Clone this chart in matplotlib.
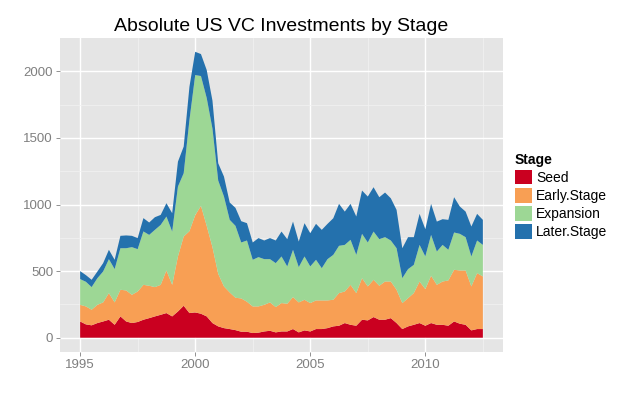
import numpy as np
import matplotlib
matplotlib.use("Agg")
import matplotlib.pyplot as plt
from matplotlib.patches import Patch

plt.rcParams["font.family"] = ["Liberation Sans", "DejaVu Sans"]

# quarterly, 1995 Q1 .. 2012 Q3
years = 1995 + 0.25 * np.arange(71)

seed = [122, 100, 93, 110, 122, 135, 97, 160, 122, 110,
        118, 135, 147, 160, 172, 185, 160, 197, 240, 185,
        190, 180, 160, 110, 85, 72, 65, 57, 45, 45,
        35, 38, 47, 52, 40, 47, 47, 65, 40, 55,
        47, 65, 65, 72, 85, 90, 110, 97, 90, 135,
        130, 155, 135, 135, 147, 110, 65, 85, 97, 110,
        90, 110, 97, 97, 90, 122, 105, 97, 55, 65, 65]
early = [125, 135, 117, 137, 143, 200, 168, 200, 233, 212,
         229, 262, 243, 220, 225, 320, 237, 413, 520, 615,
         730, 810, 680, 570, 395, 313, 275, 243, 250, 225,
         200, 197, 200, 213, 190, 213, 208, 240, 225, 230,
         213, 215, 215, 208, 200, 245, 237, 300, 245, 312,
         255, 280, 255, 287, 275, 250, 195, 212, 238, 312,
         275, 355, 300, 325, 340, 388, 400, 408, 330, 420, 395]
expansion = [193, 185, 170, 200, 232, 255, 250, 312, 317, 358,
             318, 401, 382, 430, 450, 405, 400, 525, 475, 835,
             1052, 975, 960, 890, 700, 675, 545, 540, 420, 460,
             350, 370, 343, 325, 330, 350, 280, 355, 265, 325,
             275, 305, 242, 310, 337, 355, 350, 338, 287, 333,
             330, 362, 350, 333, 308, 312, 187, 218, 212, 275,
             245, 307, 250, 275, 230, 280, 275, 250, 225, 245, 237]
later = [60, 50, 55, 50, 63, 70, 70, 93, 96, 85,
         83, 100, 93, 95, 75, 100, 138, 187, 200, 250,
         175, 165, 210, 210, 130, 150, 130, 135, 160, 130,
         130, 143, 140, 158, 170, 187, 205, 212, 192, 250,
         250, 270, 288, 265, 275, 315, 250, 270, 288, 325,
         345, 333, 315, 335, 317, 288, 225, 240, 208, 233,
         205, 233, 225, 193, 225, 265, 205, 192, 225, 200, 188]

stages = ["Seed", "Early.Stage", "Expansion", "Later.Stage"]
colors = ["#CA0020", "#F89F54", "#9DD795", "#2471AD"]

fig = plt.figure(figsize=(6.3, 3.94), dpi=100)
ax = fig.add_axes([60 / 630, 42 / 394, 443 / 630, 314.5 / 394])

ax.stackplot(years, seed, early, expansion, later, colors=colors,
             linewidth=0, zorder=3)

ax.set_facecolor("#E5E5E5")
for s in ax.spines.values():
    s.set_visible(False)

xr = years[-1] - years[0]
ax.set_xlim(years[0] - 0.05 * xr, years[-1] + 0.05 * xr)
ymax = max(np.array(seed) + early + expansion + later)
ax.set_ylim(-0.05 * ymax, 1.05 * ymax)

ax.set_xticks([1995, 2000, 2005, 2010])
ax.set_xticks([1997.5, 2002.5, 2007.5, 2012.5], minor=True)
ax.set_yticks([0, 500, 1000, 1500, 2000])
ax.set_yticks([250, 750, 1250, 1750], minor=True)
ax.grid(True, which="major", color="white", linewidth=1.0, zorder=1)
ax.grid(True, which="minor", color="#F2F2F2", linewidth=0.5, zorder=1)
ax.set_axisbelow(True)
ax.tick_params(which="major", length=3, color="#7F7F7F", width=0.6,
               labelsize=9.5, labelcolor="#7F7F7F", pad=2)
ax.tick_params(which="minor", length=0)

ax.set_title("Absolute US VC Investments by Stage", fontsize=14, pad=5)

handles = [Patch(facecolor=c, edgecolor="none") for c in colors]
leg = fig.legend(handles, stages, title="Stage", loc="upper left",
                 bbox_to_anchor=(505 / 630, 1 - 143 / 394), frameon=False,
                 fontsize=10, title_fontproperties={"weight": "bold", "size": 10},
                 handlelength=1.25, handleheight=1.25, labelspacing=0.22,
                 handletextpad=0.3, alignment="left", borderpad=0.2)

fig.savefig("out.png", dpi=100)
